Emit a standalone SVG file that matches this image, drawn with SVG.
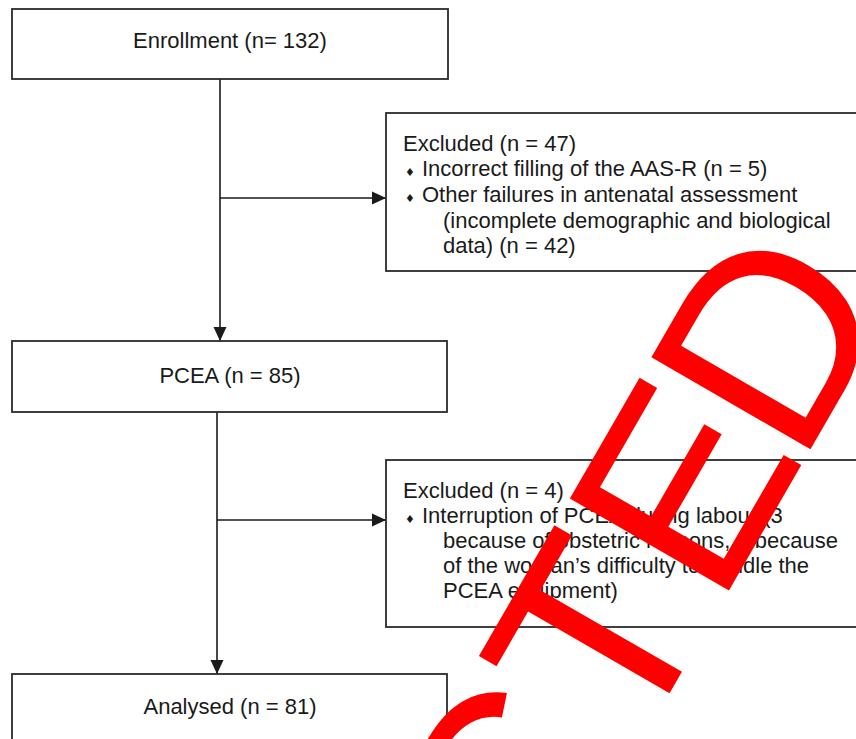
<svg xmlns="http://www.w3.org/2000/svg" width="856" height="739" viewBox="0 0 856 739">
<style>
.box{fill:#fff;stroke:#2b2b2b;stroke-width:1.8}
.t{font-family:"Liberation Sans",Arial,sans-serif;font-size:22px;fill:#1a1a1a}
.c{text-anchor:middle}
.b{font-family:"DejaVu Sans",sans-serif;font-size:11px;fill:#1a1a1a}
.ln{stroke:#1a1a1a;stroke-width:1.6;fill:none}
.wm{font-family:"Liberation Sans",Arial,sans-serif;font-size:267px;fill:#FF0000}
</style>
<defs>
<marker id="arr" markerUnits="userSpaceOnUse" markerWidth="14" markerHeight="14" viewBox="0 0 14 14" refX="14" refY="7" orient="auto"><path d="M0,0.5 L14,7 L0,13.5 Z" fill="#1a1a1a"/></marker>
</defs>
<rect width="856" height="739" fill="#fff"/>
<g id="connectors">
<path class="ln" d="M220,79 V341" marker-end="url(#arr)"/>
<path class="ln" d="M220,198 H386" marker-end="url(#arr)"/>
<path class="ln" d="M217,412 V674" marker-end="url(#arr)"/>
<path class="ln" d="M217,520 H386" marker-end="url(#arr)"/>
</g>
<g id="enrollment">
<rect class="box" x="12" y="9" width="436" height="70"/>
<text class="t c" x="230" y="48">Enrollment (n= 132)</text>
</g>
<g id="excluded1">
<rect class="box" x="386" y="113" width="480" height="158"/>
<text class="t" x="403" y="151">Excluded (n = 47)</text>
<text class="b" x="405" y="176">♦</text>
<text class="t" x="422" y="176">Incorrect filling of the AAS-R (n = 5)</text>
<text class="b" x="405" y="202">♦</text>
<text class="t" x="422" y="202">Other failures in antenatal assessment</text>
<text class="t" x="443" y="228">(incomplete demographic and biological</text>
<text class="t" x="443" y="253">data) (n = 42)</text>
</g>
<g id="pcea">
<rect class="box" x="12" y="341" width="435" height="71"/>
<text class="t c" x="230" y="383">PCEA (n = 85)</text>
</g>
<g id="excluded2">
<rect class="box" x="386" y="460" width="480" height="167"/>
<text class="t" x="403" y="498">Excluded (n = 4)</text>
<text class="b" x="405" y="523">♦</text>
<text class="t" x="422" y="523">Interruption of PCEA during labour (3</text>
<text class="t" x="443" y="548">because of obstetric reasons, 1 because</text>
<text class="t" x="443" y="573">of the woman’s difficulty to handle the</text>
<text class="t" x="443" y="598">PCEA equipment)</text>
</g>
<g id="analysed">
<rect class="box" x="12" y="674" width="435" height="90"/>
<text class="t c" x="230" y="714">Analysed (n = 81)</text>
</g>
<g id="watermark">
<text class="wm" transform="translate(810,450) rotate(-60)" x="-1448 -1255 -1077 -914 -721 -543 -350 -184 -21" y="0">RETRACTED</text>
</g>
</svg>
